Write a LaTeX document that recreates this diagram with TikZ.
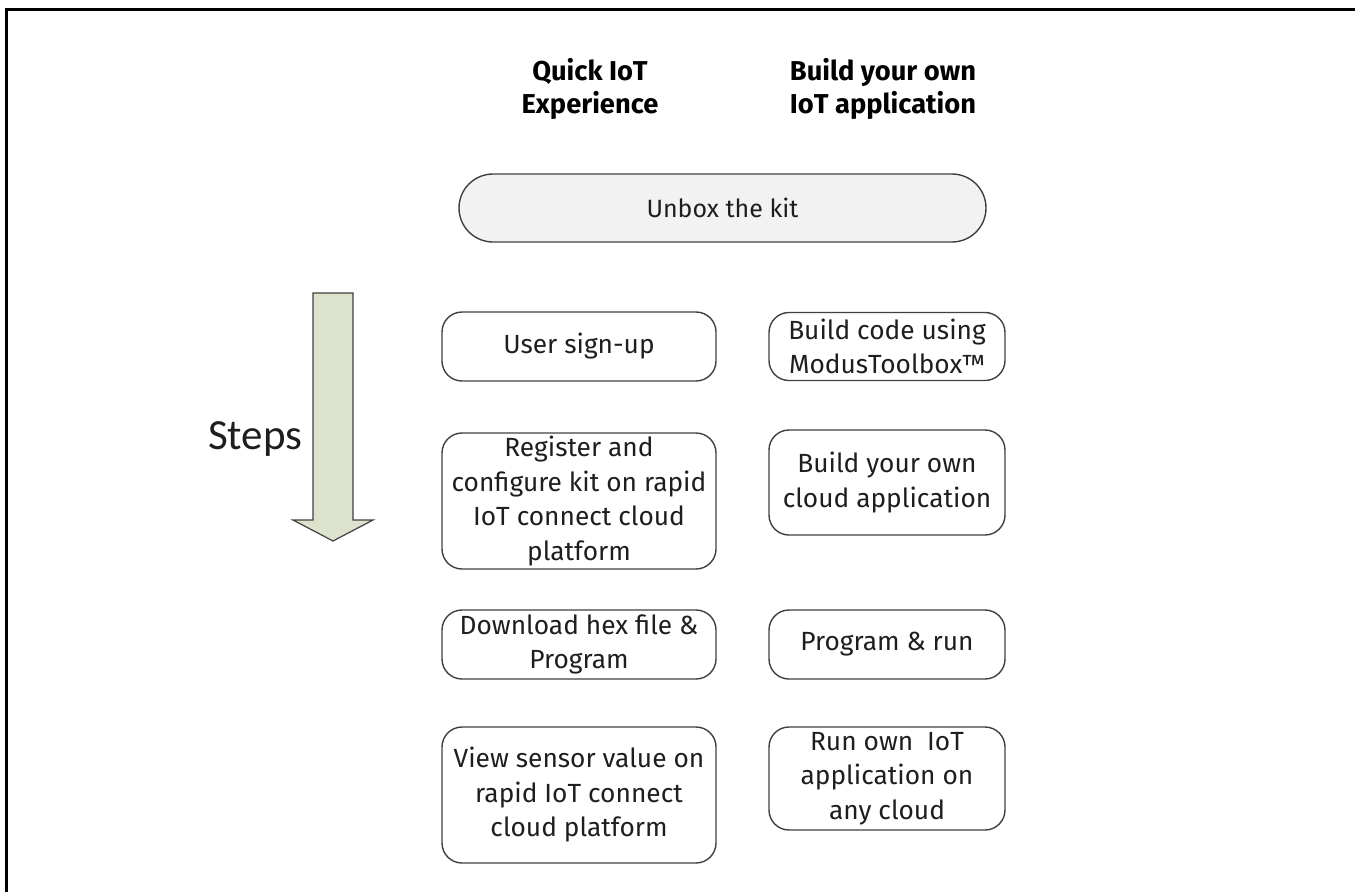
\documentclass[tikz,border=0pt]{standalone}
\usepackage{fontspec}
\setmainfont{Fira Sans}
\newfontfamily\stepsfont{Carlito}
\definecolor{txt}{HTML}{1E1E1E}
\definecolor{edge}{HTML}{404040}
\definecolor{pillfill}{HTML}{F2F2F2}
\definecolor{arrowfill}{HTML}{DDE2CC}
\begin{document}
\begin{tikzpicture}[x=1pt,y=-1pt,
  stepbox/.style={draw=edge, line width=1.4pt, rounded corners=20pt, align=center,
    text=txt, inner sep=0pt, font=\fontsize{26.3}{34.5}\selectfont},
  hdr/.style={align=center, text=black, font=\fontsize{27.3}{33.5}\selectfont\bfseries}]
\useasboundingbox (0,0) rectangle (1355,892);
% frame (only top and left edges visible)
\draw[line width=3pt] (6.5,892) -- (6.5,9) -- (1355,9);
% headings
\node[hdr] (h1) at (590,89) {Quick IoT\\Experience};
\node[hdr] (h2) at (883,89) {Build your own\\IoT application};
% unbox pill
\node[stepbox, fill=pillfill, rounded corners=34pt, minimum width=527pt, minimum height=68pt,
  font=\fontsize{25}{30}\selectfont] (unbox) at (722.5,208) {Unbox the kit};
% left column
\node[stepbox, minimum width=274pt, minimum height=69pt] (signup) at (579,346.5) {User sign-up};
\node[stepbox, minimum width=274pt, minimum height=136pt] (register) at (579,501) {Register and\\configure kit on rapid\\IoT connect cloud\\platform};
\node[stepbox, minimum width=274pt, minimum height=69pt] (download) at (579,644.5) {Download hex file \&\\Program};
\node[stepbox, minimum width=274pt, minimum height=136pt] (view) at (579,795) {View sensor value on\\rapid IoT connect\\cloud platform};
% right column
\node[stepbox, minimum width=236pt, minimum height=68pt] (buildcode) at (887,346.5) {Build code using\\ModusToolbox™};
\node[stepbox, minimum width=236pt, minimum height=105pt] (cloudapp) at (887,482.5) {Build your own\\cloud application};
\node[stepbox, minimum width=236pt, minimum height=69pt] (progrun) at (887,644.5) {Program \& run};
\node[stepbox, minimum width=236pt, minimum height=103pt] (runown) at (887,778.5) {Run own\ \ IoT\\application on\\any cloud};
% steps arrow
\draw[draw=edge, line width=1.2pt, fill=arrowfill, line join=miter]
  (313,293) -- (353,293) -- (353,520) -- (373,520) -- (333,541) -- (293,520) -- (313,520) -- cycle;
\node[text=txt, font=\stepsfont\fontsize{43}{43}\selectfont, anchor=base east] (steps) at (306,449) {Steps};
\end{tikzpicture}
\end{document}
